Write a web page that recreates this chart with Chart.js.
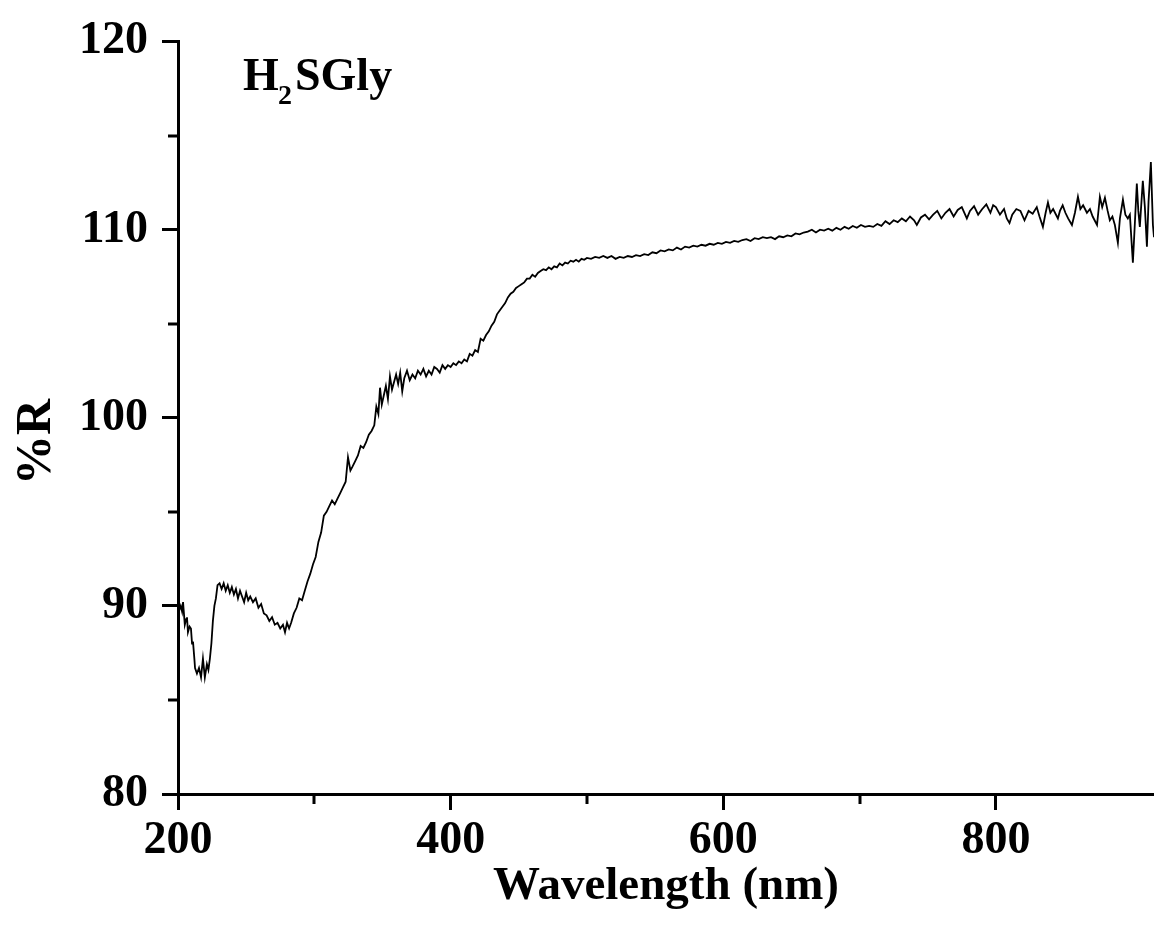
<!DOCTYPE html>
<html>
<head>
<meta charset="utf-8">
<script src="https://cdn.jsdelivr.net/npm/chart.js@4/dist/chart.umd.min.js"></script>
<style>
    html, body { margin: 0; padding: 0; background: #fff; }
    #wrap { width: 1154px; height: 942px; position: relative; }
</style>
</head>
<body>
<div id="wrap"><canvas id="chartReflectance"></canvas></div>
<script>
// Diffuse reflectance spectrum, H2SGly
const wavelength = [
    200, 201, 202, 203, 203.7, 205, 206, 206.6, 207.3, 208.5, 209.5, 210.3, 211, 212, 212.5, 213.9,
    215.4, 216.9, 218.3, 219.7, 221.2, 222.3, 223.4, 224.5, 225.6, 226.7, 227.8, 229,
    230.5, 232, 233.5, 235, 236.5, 238, 239.5, 241, 242.5, 244, 245.5, 247, 248.5, 250, 251.5,
    253, 255, 257, 259, 261, 263, 265, 267, 269, 271, 273, 275, 277, 278.5, 280, 281.5, 283,
    285, 287, 289, 291, 293, 295, 297, 299, 301, 303, 305, 307, 309, 311, 313, 315, 317, 319,
    321, 323, 324.7, 326.5, 328, 330, 332, 334, 336, 338, 340, 342, 344, 345.5, 347, 348.2,
    349.5, 351, 352.5, 354, 355.5, 357, 358.5, 360, 361.5, 363, 364.5, 366, 368, 370, 372, 374,
    376, 378, 380, 382, 384, 386, 388, 390, 392, 394, 396, 398, 400, 402, 404, 406, 408, 410,
    412, 414, 416, 418, 420, 422, 424, 426, 428, 430, 432, 434, 436, 438, 440, 442, 444, 446,
    448, 450, 452, 454, 456, 458, 460, 462, 464, 466, 468, 470, 472, 474, 476, 478, 480, 482,
    484, 486, 488, 490, 492, 494, 496, 498, 500, 503, 506, 509, 512, 515, 518, 521, 524, 527,
    530, 533, 536, 539, 542, 545, 548, 551, 554, 557, 560, 563, 566, 569, 572, 575, 578, 581,
    584, 587, 590, 593, 596, 599, 602, 605, 608, 611, 614, 617, 620, 623, 626, 629, 632, 635,
    638, 641, 644, 647, 650, 653, 656, 659, 662, 665, 668, 671, 674, 677, 680, 683, 686, 689,
    692, 695, 698, 701, 704, 707, 710, 713, 716, 719, 722, 725, 728, 731, 734, 737, 740, 742,
    745, 748, 751, 754, 757, 760, 763, 766, 769, 772, 775, 778.7, 781, 784, 787, 790, 793, 796,
    798, 800, 803, 806, 808, 810, 812, 815, 818, 821, 824, 827, 830, 832, 834.5, 836.5, 838.2,
    840, 842, 845.5, 847, 849, 851, 853, 855.8, 858, 860.2, 862, 864, 866.8, 869, 871, 874.2,
    876.3, 878, 880, 882, 883.6, 885.5, 887.3, 889.5, 891, 893.2, 895, 896.8, 898.3, 900.5,
    902, 903.4, 904.5, 905.6, 907.8, 909.3, 910.8, 912, 913.7, 915.2, 916
];

const reflectance = [
    89.3, 89.8, 90.0, 89.7, 90.2, 89.0, 89.3, 89.4, 88.6, 88.9, 88.8, 88.0, 88.1, 87.2, 86.7, 86.4,
    86.7, 86.2, 87.2, 86.2, 86.9, 86.6, 87.2, 88.0, 89.2, 90.0, 90.4, 91.1,
    91.2, 90.9, 91.2, 90.8, 91.1, 90.7, 91.0, 90.6, 90.9, 90.4, 90.8, 90.5, 90.2, 90.7, 90.3,
    90.5, 90.2, 90.4, 89.9, 90.1, 89.6, 89.5, 89.2, 89.4, 89.0, 89.1, 88.8, 89.0, 88.6, 89.1, 88.8, 89.1,
    89.6, 89.9, 90.4, 90.3, 90.8, 91.3, 91.7, 92.2, 92.6, 93.4, 93.9, 94.8, 95.0, 95.3, 95.6, 95.4, 95.7, 96.0,
    96.3, 96.6, 97.9, 97.2, 97.4, 97.7, 98.0, 98.5, 98.4, 98.7, 99.1, 99.3, 99.6, 100.6, 100.2, 101.6,
    100.7, 101.2, 101.7, 101.0, 102.2, 101.5, 101.9, 102.3, 101.8, 102.4, 101.4, 102.1, 102.5, 102.0, 102.3, 102.1,
    102.5, 102.3, 102.6, 102.2, 102.5, 102.3, 102.7, 102.6, 102.4, 102.8, 102.6, 102.8, 102.7, 102.9, 102.8, 103.0, 102.9, 103.1,
    103.0, 103.4, 103.3, 103.6, 103.5, 104.2, 104.1, 104.4, 104.6, 104.9, 105.1, 105.5, 105.7, 105.9, 106.1, 106.4, 106.6, 106.7,
    106.9, 107.0, 107.1, 107.2, 107.4, 107.4, 107.6, 107.5, 107.7, 107.8, 107.9, 107.85, 108.0, 107.9, 108.05, 108.0, 108.2, 108.1,
    108.25, 108.2, 108.35, 108.3, 108.4, 108.3, 108.45, 108.4, 108.5, 108.45, 108.55, 108.5, 108.6, 108.5, 108.6, 108.45, 108.55, 108.5,
    108.6, 108.55, 108.65, 108.6, 108.7, 108.65, 108.8, 108.75, 108.9, 108.85, 108.95, 108.9, 109.05, 108.95, 109.1, 109.05, 109.15, 109.1,
    109.2, 109.15, 109.25, 109.2, 109.3, 109.25, 109.35, 109.3, 109.4, 109.35, 109.45, 109.5, 109.4, 109.55, 109.5, 109.6, 109.55, 109.6,
    109.5, 109.65, 109.6, 109.7, 109.65, 109.8, 109.75, 109.85, 109.9, 110.0, 109.85, 110.0, 109.95, 110.05, 109.95, 110.1, 110.0, 110.15,
    110.05, 110.2, 110.1, 110.25, 110.15, 110.2, 110.15, 110.3, 110.2, 110.45, 110.3, 110.5, 110.4, 110.6, 110.45, 110.7, 110.5, 110.25,
    110.65, 110.8, 110.55, 110.8, 111.0, 110.6, 110.9, 111.1, 110.7, 111.05, 111.2, 110.6, 111.0, 111.25, 110.8, 111.1, 111.35, 110.9,
    111.3, 111.2, 110.8, 111.1, 110.6, 110.35, 110.8, 111.1, 111.0, 110.5, 111.0, 110.85, 111.2, 110.7, 110.15, 110.9, 111.45,
    110.9, 111.1, 110.6, 111.0, 111.3, 110.9, 110.6, 110.25, 110.9, 111.75, 111.1, 111.3, 110.9, 111.1, 110.7, 110.25,
    111.75, 111.2, 111.7, 111.0, 110.5, 110.7, 110.25, 109.3, 110.6, 111.6, 110.8, 110.6, 110.8, 108.25,
    110.4, 112.45, 111.0, 110.15, 112.6, 111.2, 109.1, 111.5, 113.6, 110.25, 109.6
];

const xTickValues = [200, 400, 600, 800];
const xMinorValues = [300, 500, 700];
const yTickValues = [80, 90, 100, 110, 120];
const yMinorValues = [85, 95, 105, 115];

const serif = "'Liberation Serif', 'Times New Roman', serif";

// minor ticks, the rotated y title and the sample label
const extrasPlugin = {
    id: 'extras',
    afterDraw(chart) {
        const c = chart.ctx;
        const area = chart.chartArea;
        const xs = chart.scales.x;
        const ys = chart.scales.y;
        c.save();
        c.strokeStyle = '#000';
        c.lineWidth = 3;
        c.beginPath();
        xMinorValues.forEach(function(v) {
            const px = Math.round(xs.getPixelForValue(v));
            c.moveTo(px, area.bottom);
            c.lineTo(px, area.bottom + 10);
        });
        yMinorValues.forEach(function(v) {
            const py = Math.round(ys.getPixelForValue(v));
            c.moveTo(area.left, py);
            c.lineTo(area.left - 10, py);
        });
        c.stroke();

        c.fillStyle = '#000';
        // y axis title
        c.save();
        c.translate(50, 442);
        c.rotate(-Math.PI / 2);
        c.font = 'bold 50px ' + serif;
        c.textAlign = 'center';
        c.textBaseline = 'alphabetic';
        c.fillText('%R', 0, 0);
        c.restore();

        // H2SGly label
        c.textAlign = 'left';
        c.textBaseline = 'alphabetic';
        c.font = 'bold 46px ' + serif;
        c.fillText('H', area.left + 65, area.top + 48);
        c.font = 'bold 28px ' + serif;
        c.fillText('2', area.left + 100, area.top + 62);
        c.font = 'bold 46px ' + serif;
        c.fillText('SGly', area.left + 117, area.top + 48);
        c.restore();
    }
};

document.addEventListener('DOMContentLoaded', function() {
    const ctx = document.getElementById('chartReflectance');
    new Chart(ctx.getContext('2d'), {
        type: 'line',
        data: {
            datasets: [{
                label: '%R',
                data: wavelength.map(function(w, i) { return { x: w, y: reflectance[i] }; }),
                borderColor: '#000',
                borderWidth: 1.8,
                pointRadius: 0,
                tension: 0,
                fill: false
            }]
        },
        options: {
            responsive: true,
            maintainAspectRatio: false,
            animation: false,
            events: [],
            layout: {
                padding: { top: 35, right: 0, left: 0, bottom: 0 }
            },
            plugins: {
                legend: { display: false },
                title: { display: false },
                tooltip: { enabled: false }
            },
            scales: {
                x: {
                    type: 'linear',
                    min: 200,
                    max: 916,
                    afterBuildTicks: function(scale) {
                        scale.ticks = xTickValues.map(function(v) { return { value: v }; });
                    },
                    afterFit: function(scale) {
                        scale.height = 148;
                    },
                    border: { display: true, color: '#000', width: 3 },
                    grid: {
                        drawOnChartArea: false,
                        drawTicks: true,
                        tickLength: 16,
                        tickWidth: 3,
                        tickColor: '#000'
                    },
                    ticks: {
                        color: '#000',
                        padding: 4,
                        maxRotation: 0,
                        font: { family: serif, size: 46, weight: 'bold' }
                    },
                    title: {
                        display: true,
                        text: 'Wavelength (nm)',
                        color: '#000',
                        padding: { top: 0, bottom: 27 },
                        font: { family: serif, size: 47, weight: 'bold' }
                    }
                },
                y: {
                    min: 80,
                    max: 120,
                    afterBuildTicks: function(scale) {
                        scale.ticks = yTickValues.map(function(v) { return { value: v }; });
                    },
                    afterFit: function(scale) {
                        scale.width = 178;
                    },
                    border: { display: true, color: '#000', width: 3 },
                    grid: {
                        drawOnChartArea: false,
                        drawTicks: true,
                        tickLength: 16,
                        tickWidth: 3,
                        tickColor: '#000'
                    },
                    ticks: {
                        color: '#000',
                        padding: 14,
                        font: { family: serif, size: 46, weight: 'bold' }
                    }
                }
            }
        },
        plugins: [extrasPlugin]
    });
});
</script>
</body>
</html>
